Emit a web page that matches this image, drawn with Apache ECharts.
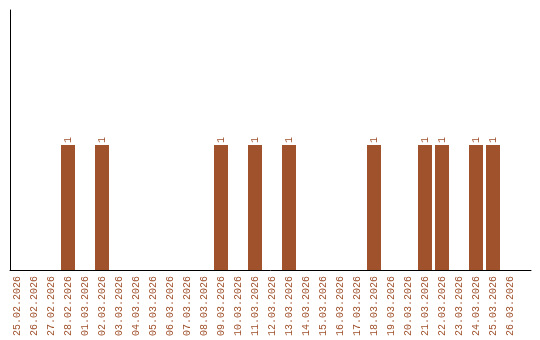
<!DOCTYPE html>
<html>
<head>
<meta charset="utf-8">
<script src="https://cdn.jsdelivr.net/npm/echarts@6/dist/echarts.min.js"></script>
<style>html,body{margin:0;padding:0;background:#fff}#c{width:540px;height:340px}</style>
</head>
<body>
<div id="c"></div>
<script>
const categories = ['25.02.2026','26.02.2026','27.02.2026','28.02.2026','01.03.2026','02.03.2026','03.03.2026','04.03.2026','05.03.2026','06.03.2026','07.03.2026','08.03.2026','09.03.2026','10.03.2026','11.03.2026','12.03.2026','13.03.2026','14.03.2026','15.03.2026','16.03.2026','17.03.2026','18.03.2026','19.03.2026','20.03.2026','21.03.2026','22.03.2026','23.03.2026','24.03.2026','25.03.2026','26.03.2026'];
const values = [null,null,null,1,null,1,null,null,null,null,null,null,1,null,1,null,1,null,null,null,null,1,null,null,1,1,null,1,1,null];
const yMax = 2.08;

const color = '#A0522D';
const chart = echarts.init(document.getElementById('c'), null, {renderer:'canvas'});
chart.setOption({
  animation: false,
  grid: [
    {left: 8.5, right: 21.5, top: 10, bottom: 70},
    {left: 10, right: 9, top: 10, bottom: 70}
  ],
  xAxis: [{
    type: 'category', gridIndex: 0,
    data: categories,
    axisLine: {show: false},
    axisTick: {show: false},
    axisLabel: {
      rotate: 90, interval: 0, color: color,
      fontFamily: 'Liberation Mono', fontSize: 10, margin: 6
    }
  }, {
    type: 'value', gridIndex: 1, min: 0, max: 1,
    axisLine: {show: true, lineStyle: {color: '#000', width: 1}},
    axisTick: {show: false}, axisLabel: {show: false}, splitLine: {show: false}
  }],
  yAxis: [{
    type: 'value', gridIndex: 0, min: 0, max: yMax,
    axisLine: {show: false},
    axisTick: {show: false},
    axisLabel: {show: false},
    splitLine: {show: false}
  }, {
    type: 'value', gridIndex: 1, min: 0, max: yMax,
    axisLine: {show: true, onZero: false, lineStyle: {color: '#000', width: 1}},
    axisTick: {show: false}, axisLabel: {show: false}, splitLine: {show: false}
  }],
  series: [{
    type: 'bar',
    xAxisIndex: 0, yAxisIndex: 0,
    data: values,
    barWidth: 14,
    itemStyle: {color: color},
    label: {
      show: true, position: 'top', rotate: 90, distance: 2,
      align: 'left', verticalAlign: 'middle',
      color: color, fontFamily: 'Liberation Mono', fontSize: 10
    }
  }]
});
</script>
</body>
</html>
